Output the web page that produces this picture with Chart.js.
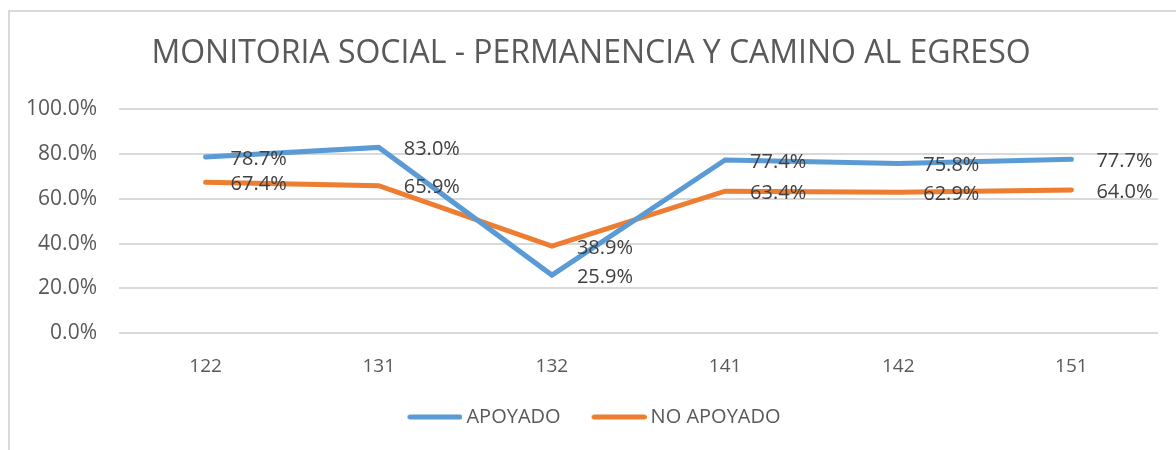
<!DOCTYPE html>
<html>
<head>
<meta charset="utf-8">
<script src="https://cdn.jsdelivr.net/npm/chart.js@4"></script>
<style>
  html, body { margin: 0; padding: 0; background: #fff; }
  body { width: 1176px; height: 450px; position: relative; overflow: hidden; }
  #frame { position: absolute; left: 8px; top: 10px; width: 1180px; height: 460px; border: 2px solid #d9d9d9; box-sizing: border-box; }
  #wrap { position: absolute; left: 0; top: 0; width: 1176px; height: 450px; }
</style>
</head>
<body>
<div id="frame"></div>
<div id="wrap"><canvas id="lineChart"></canvas></div>
<script>
// categorias y series
const categories = ['122', '131', '132', '141', '142', '151'];
const apoyado = [78.7, 83.0, 25.9, 77.4, 75.8, 77.7];
const noApoyado = [67.4, 65.9, 38.9, 63.4, 62.9, 64.0];
const yTicks = [0, 20, 40, 60, 80, 100];

const FONT = "'Open Sans', 'Liberation Sans', sans-serif";
const BLUE = '#5B9BD5';
const ORANGE = '#ED7D31';

// muestra de leyenda: linea gruesa corrida a la derecha, pegada al texto
function legendSwatch(color) {
  const c = document.createElement('canvas');
  c.width = 67;
  c.height = 6;
  const g = c.getContext('2d');
  g.strokeStyle = color;
  g.lineWidth = 5;
  g.lineCap = 'round';
  g.beginPath();
  g.moveTo(14.5, 3);
  g.lineTo(64.5, 3);
  g.stroke();
  return c;
}

// etiquetas de datos a la derecha de cada punto
const dataLabels = {
  id: 'dataLabels',
  afterDatasetsDraw(chart) {
    const ctx = chart.ctx;
    ctx.save();
    ctx.font = '20px ' + FONT;
    ctx.fillStyle = '#404040';
    ctx.textAlign = 'left';
    ctx.textBaseline = 'middle';
    chart.data.datasets.forEach((ds, i) => {
      chart.getDatasetMeta(i).data.forEach((pt, j) => {
        ctx.fillText(ds.data[j].toFixed(1) + '%', pt.x + 25, pt.y + 2);
      });
    });
    ctx.restore();
  }
};

new Chart(document.getElementById('lineChart'), {
  type: 'line',
  data: {
    labels: categories,
    datasets: [{
      label: 'APOYADO',
      data: apoyado,
      borderColor: BLUE,
      backgroundColor: BLUE,
      borderWidth: 5,
      borderCapStyle: 'round',
      pointRadius: 0,
      tension: 0
    }, {
      label: 'NO APOYADO',
      data: noApoyado,
      borderColor: ORANGE,
      backgroundColor: ORANGE,
      borderWidth: 5,
      borderCapStyle: 'round',
      pointRadius: 0,
      tension: 0
    }]
  },
  options: {
    responsive: true,
    maintainAspectRatio: false,
    animation: false,
    layout: { padding: { left: 24, right: 18, top: 0, bottom: 13 } },
    scales: {
      y: {
        min: 0,
        max: 100,
        afterBuildTicks: s => { s.ticks = yTicks.map(v => ({ value: v })); },
        afterFit: s => { s.width = 95; },
        ticks: {
          color: '#595959',
          font: { family: FONT, size: 21 },
          padding: 22,
          callback: v => v.toFixed(1) + '%'
        },
        grid: { color: '#d9d9d9', lineWidth: 2, drawTicks: false },
        border: { display: false }
      },
      x: {
        offset: true,
        afterFit: s => { s.height = 49; },
        ticks: {
          color: '#595959',
          font: { family: FONT, size: 19 },
          padding: 22
        },
        grid: { display: false, drawTicks: false },
        border: { display: false }
      }
    },
    plugins: {
      title: {
        display: true,
        text: 'MONITORIA SOCIAL - PERMANENCIA Y CAMINO AL EGRESO',
        color: '#595959',
        font: { family: FONT, size: 32, weight: 'normal' },
        padding: { top: 35, bottom: 36 }
      },
      legend: {
        position: 'bottom',
        labels: {
          color: '#595959',
          font: { family: FONT, size: 20 },
          usePointStyle: true,
          pointStyleWidth: 55,
          padding: 25,
          generateLabels: chart => chart.data.datasets.map((ds, i) => ({
            text: ds.label,
            fontColor: '#595959',
            pointStyle: legendSwatch(ds.borderColor),
            strokeStyle: ds.borderColor,
            fillStyle: ds.borderColor,
            lineWidth: 0,
            hidden: false,
            datasetIndex: i
          }))
        }
      },
      tooltip: { enabled: false }
    }
  },
  plugins: [dataLabels]
});
</script>
</body>
</html>
